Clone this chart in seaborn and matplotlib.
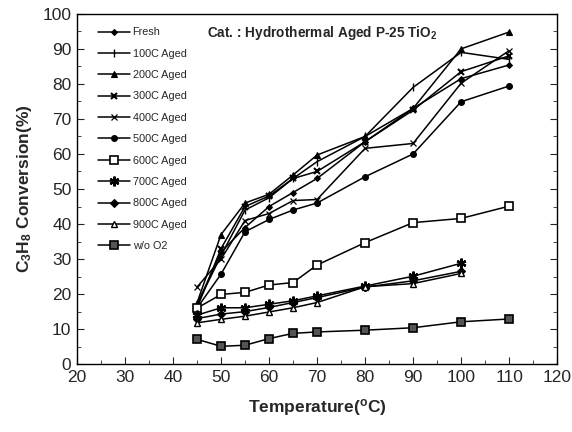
import numpy as np
import pandas as pd
import matplotlib
matplotlib.use("Agg")
import matplotlib.pyplot as plt
import seaborn as sns

temps = [45, 50, 55, 60, 65, 70, 80, 90, 100, 110]
temps_short = [45, 50, 55, 60, 65, 70, 80, 90, 100]

fresh = [17, 32, 39, 45, 49, 53, 63.5, 73, 81.5, 85.4]
aged_100 = [17, 31, 44, 47.5, 53, 57.8, 65, 79, 89, 87]
aged_200 = [17.5, 37, 46, 48.5, 54, 59.7, 65, 73, 90, 94.8]
aged_300 = [16, 33, 45, 48, 53, 55, 63.5, 72.5, 83.5, 88]
aged_400 = [22, 30, 41, 43, 46.7, 47, 61.6, 63, 80.2, 89.5]
aged_500 = [16, 25.7, 37.8, 41.3, 44, 46, 53.5, 60, 74.9, 79.4]
aged_600 = [16, 19.9, 20.5, 22.6, 23.3, 28.3, 34.7, 40.4, 41.6, 45.1]
aged_700 = [14, 16.1, 16.1, 17.1, 18.1, 19.5, 22.3, 25.1, 28.8]
aged_800 = [13, 14.3, 15.0, 16.2, 17.6, 19.0, 22.0, 23.8, 26.5]
aged_900 = [11.8, 12.8, 13.7, 14.9, 16.1, 17.6, 22.1, 23.0, 25.9]
wo_o2 = [7.1, 5.1, 5.4, 7.3, 8.8, 9.2, 9.7, 10.4, 12.1, 12.9]

series_names = ["Fresh", "100C Aged", "200C Aged", "300C Aged", "400C Aged",
                "500C Aged", "600C Aged", "700C Aged", "800C Aged", "900C Aged", "w/o O2"]
series_vals = [fresh, aged_100, aged_200, aged_300, aged_400, aged_500,
               aged_600, aged_700, aged_800, aged_900, wo_o2]

styles = [
    dict(marker="D", ms=3.0, mfc="black", mew=0.8),
    dict(marker="|", ms=6, mfc="black", mew=1.0),
    dict(marker="^", ms=4.5, mfc="black", mew=0.8),
    dict(marker="x", ms=5, mfc="black", mew=1.5),
    dict(marker="x", ms=4.5, mfc="none", mew=0.9),
    dict(marker="o", ms=4.2, mfc="black", mew=0.8),
    dict(marker="s", ms=5.2, mfc="white", mew=1.2),
    dict(marker=(6, 2, 0), ms=7, mfc="black", mew=1.7),
    dict(marker="D", ms=4.2, mfc="black", mew=0.8),
    dict(marker="^", ms=5, mfc="white", mew=1.0),
    dict(marker="s", ms=5.5, mfc="#555555", mew=1.2),
]

sns.set_style("ticks")
plt.rcParams['font.family'] = ['Liberation Sans', 'DejaVu Sans']
plt.rcParams['mathtext.fontset'] = 'custom'
plt.rcParams['mathtext.rm'] = 'Liberation Sans'
plt.rcParams['mathtext.bf'] = 'Liberation Sans:bold'
plt.rcParams['mathtext.it'] = 'Liberation Sans:italic'

fig = plt.figure(figsize=(5.72, 4.32), dpi=100)
ax = fig.add_axes([0.1346, 0.157, 0.8394, 0.811])

for name, vals, st in zip(series_names, series_vals, styles):
    xs = temps if len(vals) == len(temps) else temps_short
    df = pd.DataFrame({"T": xs, "C": vals})
    sns.lineplot(data=df, x="T", y="C", ax=ax, color="black", lw=1.1,
                 marker=st["marker"], markersize=st["ms"],
                 markerfacecolor=st["mfc"], markeredgecolor="black",
                 markeredgewidth=st["mew"], label=name)

ax.set_xlim(20, 120)
ax.set_ylim(0, 100)
ax.set_xticks(np.arange(20, 121, 10))
ax.set_yticks(np.arange(0, 101, 10))
ax.set_xticks(np.arange(20, 121, 5), minor=True)
ax.set_yticks(np.arange(0, 101, 5), minor=True)
ax.tick_params(which="both", direction="in", top=False, right=True, labelsize=12.5, pad=4)
ax.tick_params(which="major", length=5)
ax.tick_params(which="minor", length=3)
for sp in ax.spines.values():
    sp.set_linewidth(1.0)
    sp.set_color("black")

ax.set_xlabel("Temperature($^\\mathregular{o}$C)", fontsize=12.5, fontweight="bold", labelpad=9)
ax.set_ylabel("C$_\\mathregular{3}$H$_\\mathregular{8}$ Conversion(%)", fontsize=12.5, fontweight="bold", labelpad=6)

ax.text(0.27, 0.945, "Cat. : Hydrothermal Aged P-25 TiO$_\\mathregular{2}$", transform=ax.transAxes,
        fontsize=9.8, fontweight="bold", va="center", ha="left")

leg = ax.legend(loc="upper left", bbox_to_anchor=(0.03, 0.98), frameon=False, fontsize=7.8,
                handlelength=3.0, handletextpad=0.2, labelspacing=1.05, borderaxespad=0.2)

fig.savefig("out.png", dpi=100)
